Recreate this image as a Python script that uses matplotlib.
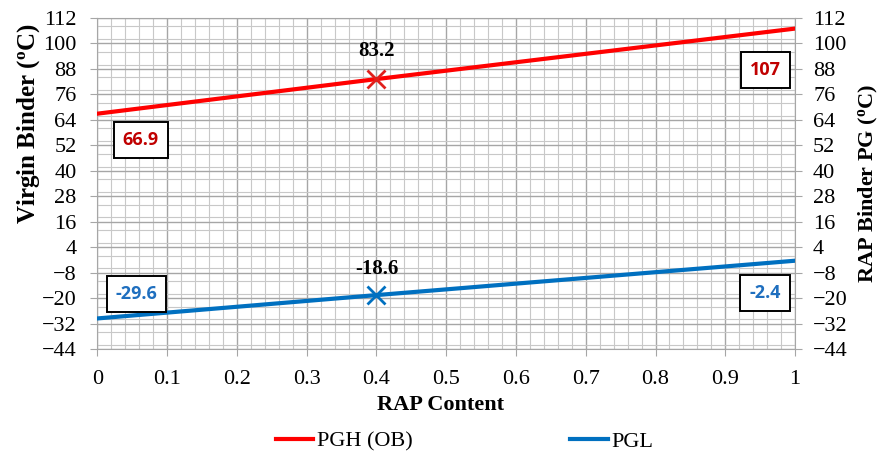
import matplotlib.pyplot as plt
from matplotlib.ticker import MultipleLocator
from matplotlib.lines import Line2D

# RAP content fraction and blend temperatures
rap_content = [0.0, 0.4, 1.0]
pgh_values = [66.9, 83.2, 107.0]
pgl_values = [-29.6, -18.6, -2.4]
y_ticks = list(range(-44, 113, 12))
x_ticks = [0, 0.1, 0.2, 0.3, 0.4, 0.5, 0.6, 0.7, 0.8, 0.9, 1]
x_tick_labels = ["0", "0.1", "0.2", "0.3", "0.4", "0.5", "0.6", "0.7", "0.8", "0.9", "1"]

red = "#FF0000"
blue = "#0070C0"
red_txt = "#C00000"
blue_txt = "#1F6FBF"
serif = "Liberation Serif"

fig = plt.figure(figsize=(8.78, 4.54), dpi=100)
ax = fig.add_axes([0.1110, 0.2313, 0.7945, 0.7291])

ax.plot(rap_content, pgh_values, color=red, lw=3, zorder=3)
ax.plot(rap_content, pgl_values, color=blue, lw=3, zorder=3)
ax.plot([rap_content[1]], [pgh_values[1]], marker="x", ms=13, mew=2, color="#E0201C", ls="none", zorder=4)
ax.plot([rap_content[1]], [pgl_values[1]], marker="x", ms=13, mew=2, color=blue, ls="none", zorder=4)

ax.set_xlim(0, 1)
ax.set_ylim(-44, 112)
ax.set_xticks(x_ticks)
ax.set_xticklabels(x_tick_labels)
ax.set_yticks(y_ticks)
ax.xaxis.set_minor_locator(MultipleLocator(0.02))
ax.yaxis.set_minor_locator(MultipleLocator(6))
ax.grid(which="major", color="#A6A6A6", lw=1.0, zorder=0)
ax.grid(which="minor", color="#C8C8C8", lw=0.8, zorder=0)
ax.set_axisbelow(True)
for s in ax.spines.values():
    s.set_color("#A6A6A6")
ax.tick_params(which="major", length=5, color="#A6A6A6", labelsize=16, pad=10)
ax.tick_params(which="minor", length=0)
for lab in ax.get_xticklabels() + ax.get_yticklabels():
    lab.set_fontfamily(serif)

ax2 = ax.twinx()
ax2.set_ylim(-44, 112)
ax2.set_yticks(y_ticks)
ax2.tick_params(length=5, color="#A6A6A6", labelsize=16, pad=8)
for s in ax2.spines.values():
    s.set_visible(False)
for lab in ax2.get_yticklabels():
    lab.set_fontfamily(serif)

fig.text(0.5020, 1 - 405 / 454, "RAP Content", ha="center", va="center",
         fontsize=16, fontweight="bold", family=serif)
fig.text(29 / 878, 1 - 124 / 454, "Virgin Binder ($\\mathregular{^{o}}$C)", ha="center", va="center",
         rotation=90, fontsize=18, fontweight="bold", family=serif)
fig.text(868 / 878, 1 - 183 / 454, "RAP Binder PG ($\\mathregular{^{o}}$C)", ha="center", va="center",
         rotation=90, fontsize=16, fontweight="bold", family=serif)

# value labels at the 0.4 marker
ax.text(rap_content[1], 96.5, f"{pgh_values[1]:.1f}", ha="center", va="center",
        fontsize=15, fontweight="bold", family=serif, color="black")
ax.text(rap_content[1], -6.3, f"{pgl_values[1]:.1f}", ha="center", va="center",
        fontsize=15, fontweight="bold", family=serif, color="black")

# boxed end values
box = dict(boxstyle="square,pad=0.5", fc="white", ec="black", lw=1.4)
ax.text(0.062, 54.5, f"{pgh_values[0]:.1f}", ha="center", va="center", fontsize=13,
        fontweight="bold", family="Open Sans", color=red_txt, bbox=box, zorder=5)
ax.text(0.957, 87.5, f"{pgh_values[2]:.0f}", ha="center", va="center", fontsize=13,
        fontweight="bold", family="Open Sans", color=red_txt, bbox=box, zorder=5)
ax.text(0.056, -18, f"{pgl_values[0]:.1f}", ha="center", va="center", fontsize=13,
        fontweight="bold", family="Open Sans", color=blue_txt, bbox=box, zorder=5)
ax.text(0.957, -17.6, f"{pgl_values[2]:.1f}", ha="center", va="center", fontsize=13,
        fontweight="bold", family="Open Sans", color=blue_txt, bbox=box, zorder=5)

handles = [Line2D([], [], color=red, lw=3), Line2D([], [], color=blue, lw=3)]
leg = fig.legend(handles, ["PGH (OB)", "PGL"], loc="center", bbox_to_anchor=(0.529, 0.028), ncol=2,
                 frameon=False, prop={"family": serif, "size": 16}, columnspacing=7.1,
                 handlelength=1.7, handletextpad=0.15)

fig.savefig("out.png", dpi=100)
